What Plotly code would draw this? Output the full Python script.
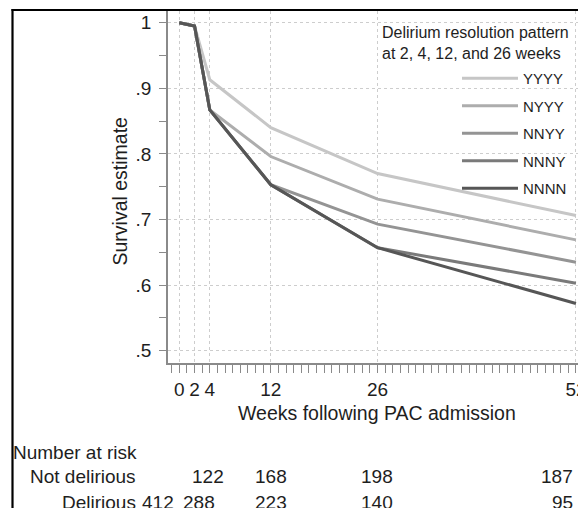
import plotly.graph_objects as go

# ---------------- data ----------------
weeks = [0, 2, 4, 12, 26, 52]
patterns = ["YYYY", "NYYY", "NNYY", "NNNY", "NNNN"]
surv_yyyy = [1.0, 0.995, 0.913, 0.840, 0.770, 0.706]
surv_nyyy = [1.0, 0.995, 0.867, 0.796, 0.731, 0.669]
surv_nnyy = [1.0, 0.995, 0.867, 0.753, 0.693, 0.635]
surv_nnny = [1.0, 0.995, 0.867, 0.753, 0.657, 0.603]
surv_nnnn = [1.0, 0.995, 0.867, 0.753, 0.657, 0.572]
xtick_vals = [0, 2, 4, 12, 26, 52]
ytick_vals = [0.5, 0.6, 0.7, 0.8, 0.9, 1.0]
ytick_text = [".5", ".6", ".7", ".8", ".9", "1"]
risk_groups = ["Not delirious", "Delirious"]
risk_not_delirious = [None, 122, 168, 198, 187]
risk_delirious = [412, 288, 223, 140, 95]

# ---------------- layout helpers ----------------
W, H = 578, 508
L, T, B = 168, 11, 145
PW, PH = W - L, H - T - B
def px_x(px):
    return (px - L) / PW
def px_y(py):
    return (H - B - py) / PH

FONT = "Liberation Sans, Arial, Helvetica, sans-serif"
TXT = "#1e1e1e"
AX = "#8a8a8a"
GRID = "#cdcdcd"
line_colors = ["#c6c6c6", "#adadad", "#949494", "#7a7a7a", "#565656"]
series = [surv_yyyy, surv_nyyy, surv_nnyy, surv_nnny, surv_nnnn]

fig = go.Figure()
for name, vals, col in zip(patterns, series, line_colors):
    fig.add_trace(go.Scatter(x=weeks, y=vals, mode="lines", name=name,
                             legendgroup=name,
                             line=dict(color=col, width=3),
                             hoverinfo="skip"))

def ann(text, x, y, xa="center", ya="middle", size=19, **kw):
    d = dict(text=text, x=px_x(x), y=px_y(y), xref="paper", yref="paper",
             xanchor=xa, yanchor=ya, showarrow=False, borderpad=0,
             font=dict(size=size, color=TXT, family=FONT))
    d.update(kw)
    return d

annotations = []
# axis titles
annotations.append(ann("Survival estimate", 120, 191.5, size=19.5, textangle=-90))
annotations.append(ann("Weeks following PAC admission", 377, 413, size=19.5))
# legend title
annotations.append(ann("Delirium resolution pattern<br>at 2, 4, 12, and 26 weeks",
                       381, 42.5, xa="left", size=16, align="left"))
# number at risk table
annotations.append(ann("Number at risk", 12, 452, xa="left"))
row_y = [477, 502]
for gname, ry in zip(risk_groups, row_y):
    annotations.append(ann(gname, 137, ry, xa="right"))
# column placement (pixel centres / anchors) for the risk numbers
col_pos_not = [(None, "center"), (208, "center"), (271, "center"), (377, "center"), (574, "right")]
col_pos_del = [(158, "center"), (199, "center"), (271, "center"), (377, "center"), (574, "right")]
for vals, poss, ry in [(risk_not_delirious, col_pos_not, row_y[0]),
                       (risk_delirious, col_pos_del, row_y[1])]:
    for v, (px, anc) in zip(vals, poss):
        if v is None:
            continue
        annotations.append(ann(str(v), px, ry, xa=anc))

shapes = [
    dict(type="line", xref="paper", yref="paper", x0=px_x(12.5), x1=px_x(12.5),
         y0=px_y(9), y1=px_y(512), line=dict(color="black", width=2.2)),
    dict(type="line", xref="paper", yref="paper", x0=px_x(11.5), x1=px_x(582),
         y0=px_y(10), y1=px_y(10), line=dict(color="black", width=2.2)),
]

fig.update_layout(
    width=W, height=H, autosize=False,
    margin=dict(l=L, r=0, t=T, b=B, pad=0, autoexpand=False),
    paper_bgcolor="white", plot_bgcolor="white",
    font=dict(family=FONT, color=TXT),
    showlegend=True,
    legend=dict(x=px_x(457), y=px_y(62), xanchor="left", yanchor="top",
                bgcolor="rgba(0,0,0,0)", font=dict(size=15, color=TXT, family=FONT),
                tracegroupgap=5, itemwidth=56),
    annotations=annotations,
    shapes=shapes,
    xaxis=dict(range=[-1.48, 52.27], tickmode="array", tickvals=xtick_vals,
               automargin=False,
               ticks="outside", ticklen=8, tickwidth=1.2, tickcolor=AX,
               showline=True, linecolor=AX, linewidth=1.5,
               showgrid=True, gridcolor=GRID, griddash="dot", gridwidth=1,
               zeroline=False, tickfont=dict(size=19, color=TXT, family=FONT),
               ticklabeloverflow="allow",
               minor=dict(dtick=1, tick0=0, ticks="outside", ticklen=8, tickwidth=1.2,
                          tickcolor=AX, showgrid=False)),
    yaxis=dict(range=[0.4813, 1.0178], tickmode="array", tickvals=ytick_vals, ticktext=ytick_text,
               automargin=False,
               ticks="outside", ticklen=7, tickwidth=1.2, tickcolor=AX,
               showline=True, linecolor=AX, linewidth=1.5,
               showgrid=True, gridcolor=GRID, griddash="dot", gridwidth=1,
               zeroline=False, tickfont=dict(size=19, color=TXT, family=FONT),
               ticklabelstandoff=4,
               minor=dict(dtick=0.05, tick0=0, ticks="outside", ticklen=7, tickwidth=1.2,
                          tickcolor=AX, showgrid=False)),
)

post = (
    "document.documentElement.style.overflow='hidden';"
    "document.body.style.margin='0';document.body.style.padding='0';"
    "document.body.style.overflow='hidden';"
)

fig.write_html("out.html", config={"displayModeBar": False}, post_script=post)
